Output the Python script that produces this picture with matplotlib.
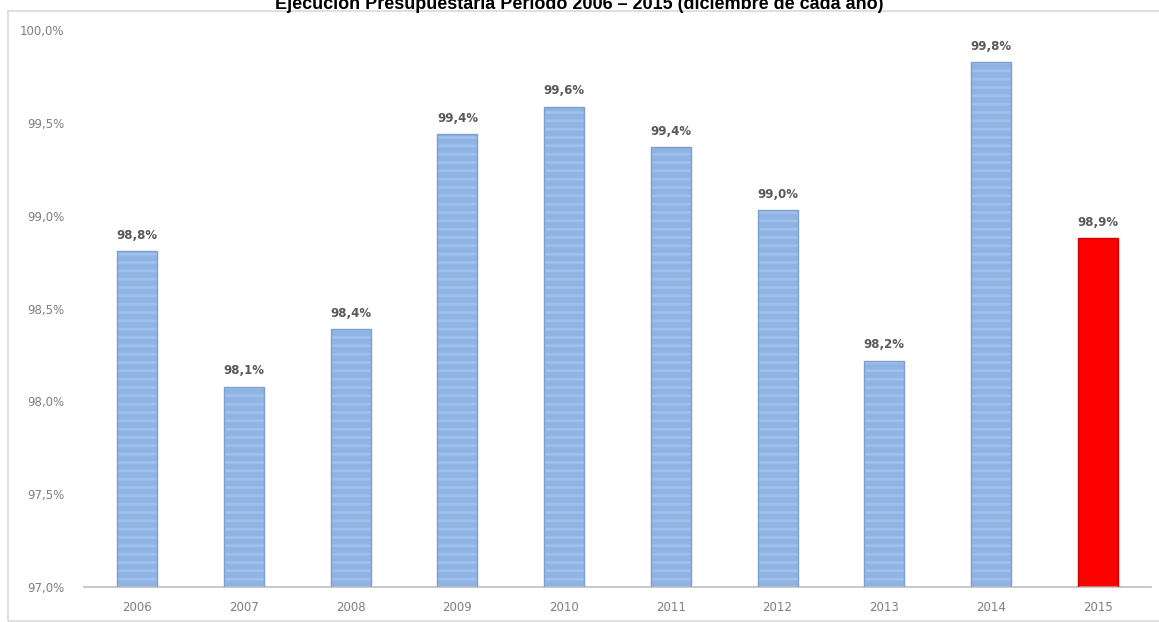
import matplotlib
matplotlib.use('Agg')
import matplotlib.pyplot as plt
from matplotlib.patches import Rectangle

# Ejecucion presupuestaria por año (% a diciembre)
years = ['2006', '2007', '2008', '2009', '2010', '2011', '2012', '2013', '2014', '2015']
values = [98.81, 98.08, 98.39, 99.44, 99.59, 99.37, 99.03, 98.22, 99.83, 98.88]
bar_labels = ['98,8%', '98,1%', '98,4%', '99,4%', '99,6%', '99,4%', '99,0%', '98,2%', '99,8%', '98,9%']
yticks = [97.0, 97.5, 98.0, 98.5, 99.0, 99.5, 100.0]
ytick_labels = ['97,0%', '97,5%', '98,0%', '98,5%', '99,0%', '99,5%', '100,0%']

plt.rcParams['font.family'] = ['DejaVu Sans']
plt.rcParams['hatch.linewidth'] = 2.0

fig = plt.figure(figsize=(11.59, 6.22), dpi=100)
ax = fig.add_axes([84/1159, 1-587/622, (1151-84)/1159, (587-30.5)/622])

x = list(range(len(years)))
blue = '#8fb3e2'
stripe = '#9fc0ea'
base = 97.0
heights = [v - base for v in values]
cols = [blue]*(len(years)-1) + ['#ff0000']
hcols = [stripe]*(len(years)-1) + ['#ff0000']
edges = ['#7c9fcc']*(len(years)-1) + ['#d00000']

for i in x:
    ax.bar(i, heights[i], width=0.375, bottom=base, color=cols[i],
           edgecolor=hcols[i], hatch='--' if i < len(years)-1 else None,
           linewidth=0, zorder=2)
    ax.bar(i, heights[i], width=0.375, bottom=base, fill=False,
           edgecolor=edges[i], linewidth=1.0, zorder=3)
    ax.text(i, values[i] + 0.05, bar_labels[i], ha='center', va='bottom',
            fontsize=8.5, fontweight='bold', color='#595959')

ax.set_xlim(-0.5, len(years)-0.5)
ax.set_ylim(97.0, 100.0)
ax.set_xticks(x)
ax.set_xticklabels(years)
ax.set_yticks(yticks)
ax.set_yticklabels(ytick_labels)
ax.tick_params(axis='both', length=0, labelsize=8.5, labelcolor='#7f7f7f')
ax.tick_params(axis='x', pad=10)
ax.tick_params(axis='y', pad=14)
for s in ['top', 'right', 'left']:
    ax.spines[s].set_visible(False)
ax.spines['bottom'].set_color('#bfbfbf')
ax.spines['bottom'].set_linewidth(1.2)

# chart border
fig.patches.append(Rectangle((8/1159, 1/622), 1.0, (610)/622, transform=fig.transFigure,
                             fill=False, edgecolor='#d9d9d9', linewidth=1.2))

fig.text(0.5, 1-9/622, 'Ejecución Presupuestaria Período 2006 – 2015 (diciembre de cada año)',
         ha='center', va='baseline', fontsize=13, fontweight='bold',
         family=['Liberation Sans', 'DejaVu Sans'], color='black')

fig.savefig('out.png', dpi=100)
